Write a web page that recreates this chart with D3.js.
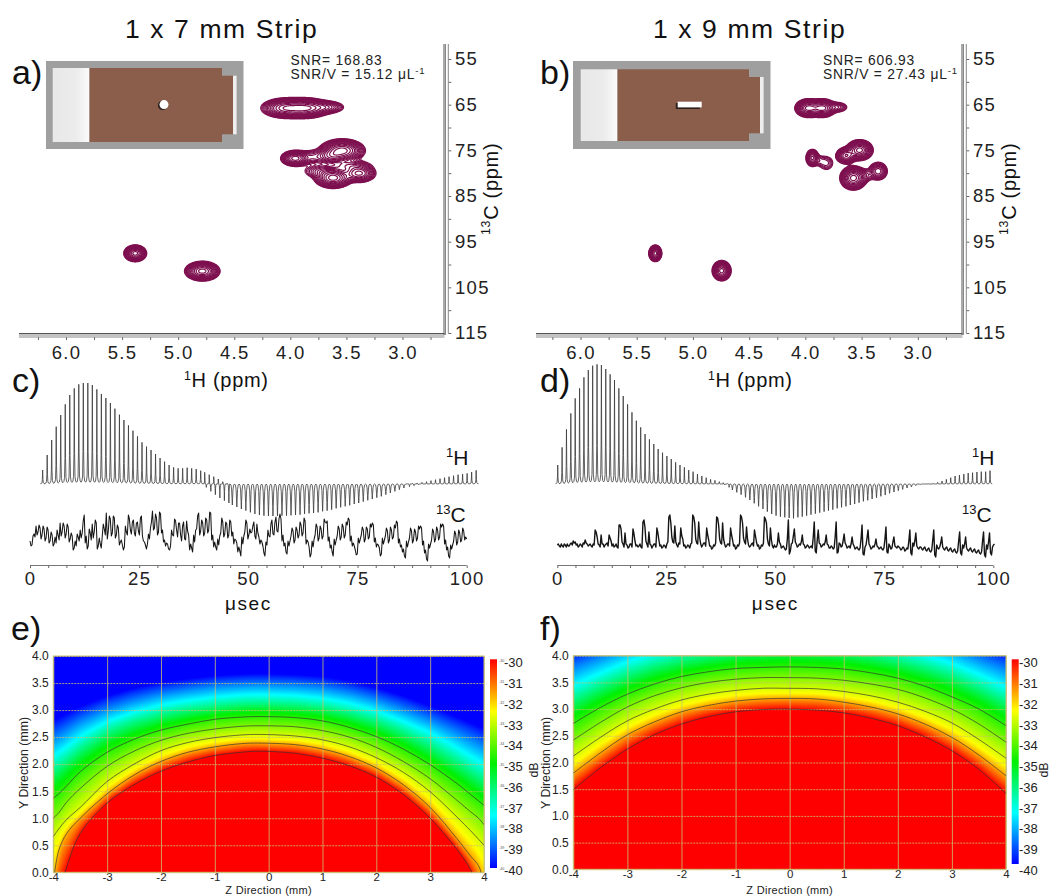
<!DOCTYPE html>
<html><head><meta charset="utf-8">
<script src="https://cdnjs.cloudflare.com/ajax/libs/d3/7.8.5/d3.min.js"></script>
<style>
html,body{margin:0;padding:0;background:#fff}
svg{display:block}
text{font-family:"Liberation Sans",Arial,sans-serif;fill:#111}
.tk text{font-size:18.5px;letter-spacing:1.3px;fill:#222}
.hk text{font-size:12px;fill:#222}
.hx text{font-size:11.5px;fill:#222}
.domain{display:none}
</style></head><body><svg id="c" width="1050" height="896"></svg>
<script>
/* ---------- NMR peak tables (1H ppm, 13C ppm, widths, heights) ---------- */
const peaksAH  = [4.04,3.86,3.68, 3.96,3.78,3.54,3.63,3.62,3.39,3.72,3.47, 5.385,4.787];
const peaksAC  = [65.7,65.7,65.5, 76.7,76.4,75.0,76.2,81.0,80.0,79.5,78.3, 97.5,101.4];
const peaksASH = [.095,.09,.08, .055,.09,.085,.06,.07,.068,.09,.1, .042,.065];
const peaksASC = [.95,.95,.7, .75,.9,1.07,.8,.95,.9,.85,.7, .76,.9];
const peaksAAmp= [.85,.85,.30, .80,.18,1,.4,1,.6,.2,.2, 1,1];
const peaksBH  = [3.975,3.85,3.72, 3.94,3.875,3.815, 3.52,3.64, 3.575,3.47,3.355, 5.337,4.747];
const peaksBC  = [65.7,65.7,65.5, 76.6,77.2,77.75, 74.9,76.1, 81.0,80.4,79.5, 97.5,101.3];
const peaksBSH = [.05,.05,.05, .026,.03,.04, .05,.04, .05,.045,.04, .024,.035];
const peaksBSC = [.85,.85,.6, .85,.7,1.0, .95,.8, 1.1,.8,.95, .75,.92];
const peaksBAmp= [1,1,.22, .6,.09,.13, 1,.7, 1,.12,.42, 1,1];
const ringLevels = [.05,.062,.077,.095,.118,.146,.18,.225,.28,.35,.43,.55,.7,.88];
const ppmH = [6.0,5.5,5.0,4.5,4.0,3.5,3.0];
const ppmC = [55,65,75,85,95,105,115];

/* ---------- 1H echo amplitudes ---------- */
const echoUpC = [42,87,132,172,207,239,267,287,299,303,303,297,284,270,258,243,226,208,192,176,160,143,125,112,102,90,78,67,57,50,47,47,49,47,45,40,35,28,22,15,7,2,0,0,0,0,0,0,0,0,0,0,0,0,0,0,0,0,0,0,0,0,0,0,0,0,0,0,0,0,0,0,0,0,0,0,0,0,0,0,0,1,2,3,5,7,10,13,16,19,22,25,28,30,32,36,41];
const echoDnC = [0,0,0,0,0,0,0,0,0,0,0,0,0,0,0,0,0,0,0,0,0,0,0,0,0,0,0,0,0,0,0,0,0,0,0,0,10,22,32,42,50,57,63,69,75,80,85,90,93,95,96,96,96,95,95,94,93,92,90,88,87,85,82,80,77,73,70,67,64,60,57,53,49,45,41,37,32,27,22,17,12,8,5,2,0,0,0,0,0,0,0,0,0,0,0,0,0];
const echoUpD = [57,110,164,212,257,287,320,342,355,359,357,345,329,312,287,264,239,215,190,170,150,134,120,105,94,84,75,65,57,50,42,37,30,24,19,14,11,7,4,1,0,0,0,0,0,0,0,0,0,0,0,0,0,0,0,0,0,0,0,0,0,0,0,0,0,0,0,0,0,0,0,0,0,0,0,0,0,0,0,0,0,0,0,0,0,1,2,5,9,14,19,24,27,30,33,34,36,37,37,40];
const echoDnD = [0,0,0,0,0,0,0,0,0,0,0,0,0,0,0,0,0,0,0,0,0,0,0,0,0,0,0,0,0,0,0,0,0,0,0,0,0,0,3,10,18,25,32,40,48,58,67,75,83,90,95,98,100,102,103,100,98,95,92,89,86,83,80,77,73,70,67,63,60,56,52,49,45,41,37,33,28,24,20,16,12,9,5,2,0,0,0,0,0,0,0,0,0,0,0,0,0,0,0,0];

/* ---------- 13C traces: main samples and the samples between them ---------- */
const carbonC = [-3,-7,4,12,6,10,3,9,0,8,-3,3,-6,-5,3,15,6,12,4,11,-1,2,-10,-8,1,8,5,23,2,-8,5,14,6,15,-8,-6,2,9,25,7,19,5,20,3,10,-4,-7,-9,6,23,8,16,5,15,7,20,2,-4,-11,4,10,27,10,20,6,24,8,-2,-5,-11,-8,3,19,8,15,3,12,-1,17,3,-6,-14,-4,9,25,7,15,5,18,8,25,3,-4,-12,-7,5,16,4,14,3,16,6,-1,-5,-9,-18,-6,6,15,3,5,12,2,14,1,-2,-8,-18,-7,2,14,4,16,7,19,19,3,-5,-16,-8,2,7,-2,8,3,13,5,17,-2,-9,-16,-9,3,11,0,9,2,16,17,1,-7,-18,-7,2,9,1,11,3,13,18,2,-5,-12,-16,-5,3,8,-1,9,1,11,13,0,-6,-10,-16,-6,2,7,-2,8,1,10,15,-1,-7,-11,-20,-9,0,7,-2,6,0,9,10,-3,-12,-23,-10,-2,6,-1,8,1,11,12,-2,-9,-20,-11,-3,4,-4,5,-2,7,1,10,-4];
const carbonCMid = [-8,2,1,3,13,-1,12,-3,11,-5,6,-8,1,8,-2,2,15,0,14,-4,5,-12,-3,4,-3,0,17,-5,-11,9,-2,0,18,-11,0,-10,14,3,-1,22,2,22,0,13,-7,-2,-12,12,3,19,4,18,2,16,3,22,-3,-7,-6,-1,16,8,24,3,26,5,-4,-8,-6,-12,8,2,17,1,15,-3,16,-2,7,-12,-10,3,8,22,3,18,2,20,5,26,-2,-9,-9,-1,2,20,1,16,0,18,2,-6,-2,-14,-13,1,2,18,-1,9,6,16,-1,5,-6,-4,-15,-4,8,1,18,3,21,6,24,-3,-8,-14,-3,-3,10,-5,11,0,16,2,20,-6,-4,-19,-3,-1,14,-3,12,-1,19,15,-3,-10,-14,-1,-2,12,-2,14,0,16,20,-3,-8,-8,-17,0,-1,11,-4,11,-1,14,15,-4,-9,-7,-18,0,-2,10,-5,11,-1,13,17,-5,-9,-14,-18,-3,-4,10,-5,9,-3,12,12,-7,-15,-21,-6,-6,9,-4,11,-2,14,14,-6,-12,-18,-7,-7,7,-7,8,-4,10,-2,-1];
const carbonD = [0,-1,1,-2,0,1,-1,2,4,3,1,-1,0,2,5,1,0,-1,1,15,8,0,10,1,0,2,10,4,1,-1,-2,20,16,1,12,0,-2,1,16,4,0,-1,-2,23,18,1,13,0,-1,1,17,5,0,-2,-1,1,28,22,3,19,0,2,17,6,0,-2,-1,1,30,22,2,23,1,0,2,17,5,-1,-3,-1,28,20,2,22,1,-1,1,17,5,0,-3,-1,30,22,3,18,0,-1,2,15,3,0,-3,-1,28,22,1,17,-1,0,-2,12,1,-2,-3,-4,25,-6,2,16,1,-1,0,10,0,-2,-1,-2,-3,23,-8,15,1,-1,0,10,0,-3,-2,-3,23,-7,1,-1,11,0,-2,-3,8,-1,-3,-4,-3,20,-10,0,15,-1,-3,-2,6,-2,-3,-4,-3,18,-8,-1,-3,8,-2,-1,-3,-4,-3,-5,-4,15,-10,-1,12,-3,-2,-4,-3,-5,-4,-6,-5,15,-12,-3,-2,8,-4,-3,-5,-4,-6,-5,-7,-6,13,-10,-3,8,-5,-4,-6,-5,-7,-6,-8,-7,13,-12,-4,12,-10,0];
const carbonDMid = [1,-2,-1,1,-2,-1,1,0,2,0,-2,1,-2,1,2,-1,1,-2,0,13,1,-2,1,-2,1,-1,7,-1,-2,1,-3,20,3,-2,1,-3,1,-2,11,-1,-2,1,-3,25,4,-2,1,-3,1,-2,12,-1,-3,0,-3,3,30,8,2,3,-2,1,9,-1,-3,0,-3,2,28,6,1,7,-2,2,-1,10,-1,-4,0,2,27,6,1,6,-2,1,-1,10,-1,-4,0,2,28,7,1,6,-2,1,-1,9,-1,-4,0,2,26,6,-1,5,-3,-2,1,3,-3,-1,-5,6,-9,1,9,3,-2,1,3,1,-3,0,-3,-1,8,-6,5,2,-2,1,3,1,-3,-1,-4,8,-8,2,-2,4,2,-3,-1,1,1,-4,-2,-5,6,-9,-2,7,1,-4,-1,1,-1,-4,-2,-5,6,-7,1,-4,3,-1,-3,-2,-5,-2,-6,-3,4,-8,2,4,-1,-4,-2,-5,-2,-6,-3,-7,5,-10,0,-4,2,-2,-5,-2,-6,-3,-7,-4,-8,4,-8,0,1,-3,-6,-3,-7,-4,-8,-5,-9,4,-10,0,3,-8,-2,1];
const usecTicks = [0,25,50,75,100];

/* ---------- Field maps: height (mm) of each dB level at each Z node ---------- */
const dbLevels = [-30,-31,-32,-33,-34,-35,-36,-37,-38,-39,-40];
const lineLevels = [-30,-31,-32,-33,-34];
const zNodesE = [-4,-3.9,-3.75,-3.5,-3,-2.5,-2,-1.5,-1,-.5,-.2,.5,1,1.5,2,2.5,3,3.5,3.75,3.9,4];
const levelYE = [
 [-.8,-.4,.1,.72,1.28,1.62,1.87,2.04,2.16,2.22,2.24,2.2,2.11,1.97,1.76,1.44,1.0,.42,.05,-.4,-.8],
 [-.2,.4,.72,1.0,1.45,1.8,2.05,2.22,2.32,2.38,2.39,2.36,2.28,2.14,1.93,1.62,1.2,.62,.3,.12,-.2],
 [.66,.8,.98,1.2,1.68,2.0,2.25,2.40,2.49,2.54,2.55,2.52,2.45,2.32,2.12,1.85,1.49,1.02,.77,.61,.5],
 [1.0,1.1,1.3,1.55,1.96,2.24,2.44,2.57,2.65,2.70,2.71,2.69,2.62,2.50,2.31,2.05,1.73,1.33,1.12,1.0,.88],
 [1.37,1.45,1.6,1.86,2.22,2.46,2.63,2.74,2.83,2.87,2.88,2.86,2.80,2.68,2.51,2.28,1.99,1.64,1.44,1.32,1.24],
 [1.68,1.76,1.9,2.12,2.45,2.65,2.8,2.9,2.97,3.02,3.03,3.0,2.95,2.84,2.68,2.47,2.2,1.88,1.7,1.6,1.52],
 [1.95,2.02,2.14,2.35,2.65,2.84,2.97,3.06,3.12,3.16,3.17,3.15,3.1,3.0,2.86,2.66,2.42,2.13,1.95,1.85,1.8],
 [2.2,2.27,2.37,2.56,2.83,3.0,3.13,3.21,3.27,3.31,3.32,3.3,3.25,3.16,3.02,2.83,2.62,2.35,2.2,2.12,2.05],
 [2.45,2.5,2.6,2.77,3.0,3.16,3.28,3.36,3.42,3.45,3.46,3.44,3.4,3.31,3.18,3.0,2.8,2.56,2.43,2.36,2.3],
 [2.68,2.73,2.82,2.96,3.17,3.32,3.43,3.5,3.56,3.59,3.6,3.58,3.54,3.46,3.33,3.17,2.98,2.76,2.65,2.58,2.53],
 [2.9,2.95,3.03,3.15,3.33,3.47,3.57,3.64,3.69,3.72,3.73,3.71,3.68,3.6,3.48,3.33,3.15,2.95,2.85,2.78,2.75]];
const zNodesF = [-4,-3.5,-3,-2.5,-2,-1.5,-1,-.5,-.1,.5,1,1.5,2,2.5,3,3.5,4];
const levelYF = [
 [1.49,1.9,2.25,2.52,2.72,2.86,2.95,2.99,3.0,2.98,2.93,2.83,2.69,2.48,2.22,1.87,1.42],
 [1.8,2.18,2.52,2.76,2.95,3.07,3.15,3.19,3.2,3.19,3.13,3.04,2.91,2.72,2.47,2.14,1.75],
 [2.12,2.47,2.78,3.0,3.17,3.28,3.35,3.39,3.39,3.38,3.33,3.25,3.13,2.96,2.74,2.43,2.08],
 [2.42,2.75,3.04,3.25,3.4,3.5,3.56,3.59,3.59,3.58,3.54,3.47,3.37,3.21,3.0,2.72,2.38],
 [2.73,3.03,3.28,3.47,3.61,3.7,3.76,3.78,3.79,3.78,3.75,3.68,3.58,3.43,3.23,3.0,2.69],
 [3.0,3.27,3.5,3.68,3.8,3.88,3.95,3.98,3.99,3.98,3.95,3.88,3.78,3.65,3.48,3.25,2.97],
 [3.25,3.5,3.72,3.88,4.0,4.08,4.14,4.17,4.18,4.17,4.14,4.08,3.98,3.85,3.7,3.47,3.22],
 [3.5,3.72,3.93,4.1,4.2,4.28,4.33,4.36,4.37,4.36,4.33,4.28,4.18,4.06,3.9,3.7,3.47],
 [3.75,3.95,4.15,4.3,4.4,4.47,4.52,4.55,4.56,4.55,4.52,4.47,4.38,4.27,4.12,3.92,3.72],
 [3.97,4.15,4.33,4.48,4.58,4.66,4.7,4.73,4.74,4.73,4.7,4.66,4.56,4.45,4.3,4.12,3.95],
 [4.2,4.35,4.52,4.66,4.76,4.84,4.88,4.91,4.92,4.91,4.88,4.84,4.74,4.63,4.48,4.32,4.18]];
const barDb = [-30,-32.5,-35,-37.5,-40];
const fieldDb = [-30,-31.55,-34.5,-36.8,-39.6];
const colourHex = ["#ff0000","#ffff00","#00f000","#00ffff","#0000ff"];
const zTicks = [-4,-3,-2,-1,0,1,2,3,4];
const yTicks = [0,.5,1,1.5,2,2.5,3,3.5,4];
const barTicks = [-30,-31,-32,-33,-34,-35,-36,-37,-38,-39,-40];

/* ---------- drawing ---------- */
const svg = d3.select("#c");
const colour = d3.scaleLinear().domain(fieldDb).range(colourHex);

function txt(x,y,s,size,opt){
  opt=opt||{};
  const t=svg.append("text").attr("x",x).attr("y",y).attr("font-size",size).text(s);
  if(opt.ls) t.style("letter-spacing",opt.ls+"px");
  if(opt.anchor) t.attr("text-anchor",opt.anchor);
  if(opt.fill) t.style("fill",opt.fill);
  if(opt.rot) t.attr("transform",`rotate(${opt.rot} ${x} ${y})`);
  return t;
}
function supTxt(x,y,sup,rest,size,opt){
  opt=opt||{};
  const t=svg.append("text").attr("x",x).attr("y",y).attr("font-size",size);
  if(opt.ls) t.style("letter-spacing",opt.ls+"px");
  if(opt.rot) t.attr("transform",`rotate(${opt.rot} ${x} ${y})`);
  if(opt.anchor) t.attr("text-anchor",opt.anchor);
  t.append("tspan").attr("font-size",size*.62).attr("dy",-size*.36).text(sup);
  t.append("tspan").attr("dy",size*.36).text(rest);
  return t;
}

function nmrPanel(c){
  const x=d3.scaleLinear([6,3],[c.x6,c.x3]);
  const y=d3.scaleLinear([55,115],[59,333]);
  const L=c.left,R=c.right;
  const g=svg.append("g");
  const nx=Math.round((R-L)*2), ny=Math.round(289*2);
  const gridH=d3.scaleLinear([0,nx],[x.invert(L),x.invert(R)]);
  const gridC=d3.scaleLinear([0,ny],[y.invert(44),y.invert(333)]);
  const vals=new Float64Array(nx*ny);
  for(let j=0;j<ny;j++){const cv=gridC(j);
    for(let i=0;i<nx;i++){const hv=gridH(i);let s=0;
      for(let k=0;k<c.H.length;k++){
        const a=(hv-c.H[k])/c.SH[k],b=(cv-c.C[k])/c.SC[k],e=a*a+b*b;
        if(e<30) s+=c.A[k]*Math.exp(-.5*e);
      }
      vals[i+j*nx]=s;
    }}
  const proj=d3.geoTransform({point(px,py){this.stream.point(x(gridH(px)),y(gridC(py)));}});
  const path=d3.geoPath(proj);
  g.selectAll("path.r").data(d3.contours().size([nx,ny]).thresholds(ringLevels)(vals)).join("path")
    .attr("class","r").attr("d",path).attr("fill","none").attr("stroke","#7d0f4f").attr("stroke-width",c.ring);
  const ln=(x1,y1,x2,y2,col,w)=>svg.append("line").attr("x1",x1).attr("y1",y1).attr("x2",x2).attr("y2",y2).attr("stroke",col).attr("stroke-width",w);
  ln(L,333.5,R,333.5,"#555",1); ln(L,335,R,335,"#888",1);
  ln(R-.5,44,R-.5,335,"#555",1); ln(R+1,44,R+1,335,"#888",1);
  const ax=d3.axisBottom(x).tickValues(d3.range(2.75,6.26,.25)).tickSize(3).tickFormat("");
  svg.append("g").attr("transform","translate(0,337)").call(ax).call(s=>s.selectAll("line").attr("stroke","#666"));
  ln(L,337,R,337,"#888",1);
  const ax2=d3.axisBottom(x).tickValues(ppmH).tickSize(0).tickPadding(0).tickFormat(d3.format(".1f"));
  svg.append("g").attr("class","tk").attr("transform","translate(0,346)").call(ax2);
  const ay=d3.axisRight(y).tickValues(d3.range(55,116,5)).tickSize(3).tickFormat("");
  svg.append("g").attr("transform",`translate(${R+3.8},0)`).call(ay).call(s=>s.selectAll("line").attr("stroke","#666"));
  ln(R+3.8,44,R+3.8,333,"#888",1);
  const ay2=d3.axisRight(y).tickValues(ppmC).tickSize(0).tickPadding(0);
  svg.append("g").attr("class","tk").attr("transform",`translate(${R+10.5},0)`).call(ay2);
  supTxt(c.hLabel,387,"1","H (ppm)",20,{ls:.7});
  supTxt(R+53,235,"13","C (ppm)",20,{rot:-90,ls:.7});
}
nmrPanel({x6:66,x3:402.5,left:19,right:444.5,H:peaksAH,C:peaksAC,SH:peaksASH,SC:peaksASC,A:peaksAAmp,ring:1.2,hLabel:184});
nmrPanel({x6:580.5,x3:917.8,left:536,right:962.5,H:peaksBH,C:peaksBC,SH:peaksBSH,SC:peaksBSC,A:peaksBAmp,ring:1.2,hLabel:708});

/* coil insets */
function inset(o){
  const g=svg.append("g");
  const grad=svg.append("defs").append("linearGradient").attr("id",o.id);
  grad.append("stop").attr("offset",0).attr("stop-color","#e8e8e8");
  grad.append("stop").attr("offset",.65).attr("stop-color","#ececec");
  grad.append("stop").attr("offset",1).attr("stop-color","#fbfbfb");
  g.append("rect").attr("x",o.x).attr("y",61).attr("width",197.5).attr("height",88).attr("fill","#9f9f9f");
  g.append("rect").attr("x",o.lx).attr("y",o.ty).attr("width",36.8).attr("height",o.bh).attr("fill",`url(#${o.id})`);
  g.append("rect").attr("x",o.lx+36.8).attr("y",o.ty).attr("width",o.bw).attr("height",o.bh).attr("fill","#8b5d4b");
  g.append("rect").attr("x",o.lx+36.8+o.bw).attr("y",o.ty+7.7).attr("width",11).attr("height",o.bh-15.4).attr("fill","#8b5d4b");
  g.append("rect").attr("x",o.lx+36.8+o.bw+11).attr("y",o.ty+7.7).attr("width",3.6).attr("height",o.bh-15.4).attr("fill","#eeeeee");
  o.hole(g);
}
inset({id:"ga",x:46,lx:52.7,ty:68,bh:74,bw:132.5,hole:g=>{
  g.append("circle").attr("cx",162.6).attr("cy",105.4).attr("r",4.7).attr("fill","#2b2020");
  g.append("circle").attr("cx",164).attr("cy",104.6).attr("r",4.5).attr("fill","#fff");
}});
inset({id:"gb",x:573,lx:580.7,ty:69.3,bh:71.7,bw:131.5,hole:g=>{
  g.append("rect").attr("x",675.8).attr("y",103).attr("width",24).attr("height",6).attr("fill","#2b2020");
  g.append("rect").attr("x",677.7).attr("y",101.7).attr("width",24).attr("height",5.7).attr("fill","#fff");
}});

/* titles */
txt(125,38,"1 x 7 mm Strip",26.5,{ls:1.6});
txt(653,38,"1 x 9 mm Strip",26.5,{ls:1.6});
[["a)",12,84],["b)",540,84],["c)",12,392],["d)",540,392],["e)",11,640],["f)",540,640]]
  .forEach(d=>txt(d[1],d[2],d[0],34));

function snr(x,a,b){
  txt(x,65,a,13.8,{ls:.8,fill:"#222"});
  const t=txt(x,79,b,13.8,{ls:.8,fill:"#222"});
  t.append("tspan").attr("font-size",9.5).attr("dy",-5.5).text("-1");
}
snr(290.5,"SNR= 168.83","SNR/V = 15.12 \u03BCL");
snr(823,"SNR= 606.93","SNR/V = 27.43 \u03BCL");

/* pulse traces */
const shapeDx=[-.5,-.3,-.16,-.07,0,.07,.16,.3,.5];
const shapeUp=[.018,.03,.08,.32,1,.32,.08,.03,.018];
function tracePanel(c){
  const x=d3.scaleLinear([0,100],[c.x0,c.x100]);
  const y=d3.scaleLinear([0,300],[c.base,c.base-100]);
  const pts=[];
  c.up.forEach((u,i)=>{
    const t=c.t0+i*c.dt, d=c.dn[i];
    if(u>0&&d>0){
      shapeDx.slice(0,5).forEach((dx,k)=>pts.push([t+dx*c.dt*.5-.12,u*shapeUp[k]]));
      pts.push([t,0]);
      [-.12,-.04,0,.04,.12].forEach((dx,k)=>pts.push([t+.25+dx,-d*[.1,.45,1,.45,.1][k]]));
      pts.push([t+.45,0]);
    } else if(d>0){
      [-.5,-.3,-.16,-.06,0,.06,.16,.3,.5].forEach((dx,k)=>pts.push([t+dx*c.dt,-d*[0,.05,.24,.7,1,.7,.24,.05,0][k]]));
    } else {
      shapeDx.forEach((dx,k)=>pts.push([t+dx*c.dt,u*shapeUp[k]]));
    }
  });
  svg.append("path").attr("d",d3.line().x(d=>x(d[0])).y(d=>y(d[1]))(pts))
    .attr("fill","none").attr("stroke","#3a3a3a").attr("stroke-width",.8);
  const merged=d3.merge(d3.zip(c.carbon,c.carbonMid));
  const yc=d3.scaleLinear([-30,30],[c.cBase+30,c.cBase-30]);
  const xc=d3.scaleLinear([0,merged.length-1],[c.cx0,c.cx1]);
  const cp=d3.line().x((d,i)=>xc(i)).y(d=>yc(d))(merged);
  svg.append("path").attr("d",cp).attr("fill","none").attr("stroke","#151515").attr("stroke-width",c.cw).attr("stroke-linejoin","round");
  const ay=565.5;
  svg.append("line").attr("x1",c.x0).attr("x2",c.x100).attr("y1",ay).attr("y2",ay).attr("stroke","#777");
  const minor=d3.range(0,25).map(i=>i*25/6);
  const a=d3.axisBottom(x).tickValues(minor).tickSize(2.5).tickFormat("");
  svg.append("g").attr("transform",`translate(0,${ay})`).call(a).call(s=>s.selectAll("line").attr("stroke","#666"));
  const a2=d3.axisBottom(x).tickValues(usecTicks).tickSize(0).tickPadding(0);
  svg.append("g").attr("class","tk").attr("transform","translate(0,572)").call(a2);
  txt((c.x0+c.x100)/2,610,"\u03BCsec",19,{anchor:"middle",ls:1.6});
  supTxt(c.h1,465,"1","H",21);
  supTxt(c.c13,522,"13","C",21);
}
tracePanel({x0:30,x100:466.7,base:484,t0:2.9,dt:1.034,up:echoUpC,dn:echoDnC,carbon:carbonC,carbonMid:carbonCMid,cBase:538,cx0:30,cx1:466.7,cw:1.05,h1:446,c13:436});
tracePanel({x0:557.3,x100:993.3,base:484,t0:.1,dt:1.0015,up:echoUpD,dn:echoDnD,carbon:carbonD,carbonMid:carbonDMid,cBase:545,cx0:557.3,cx1:994.5,cw:1.4,h1:972,c13:962});

/* field maps */
function heat(c){
  const x=d3.scaleLinear([-4,4],[c.x0,c.x1]);
  const y=d3.scaleLinear([0,4],[c.y0,c.y1]);
  const w=Math.round(c.x1-c.x0), h=Math.round(c.y0-c.y1);
  const cv=document.createElement("canvas");cv.width=w;cv.height=h;
  const ctx=cv.getContext("2d"),im=ctx.createImageData(w,h);
  const rows=c.levels.map(l=>d3.scaleLinear().domain(c.nodes).range(l));
  for(let i=0;i<w;i++){
    const z=x.invert(c.x0+(i+.5)*(c.x1-c.x0)/w);
    const ys=rows.map(r=>(r(z-.08)+r(z)+r(z+.08))/3);
    const f=d3.scaleLinear().domain(ys).range(dbLevels).clamp(true);
    for(let j=0;j<h;j++){
      const v=y.invert(c.y1+(j+.5)*(c.y0-c.y1)/h);
      const col=d3.rgb(colour(f(v)));
      const p=(i+j*w)*4;
      im.data[p]=col.r;im.data[p+1]=col.g;im.data[p+2]=col.b;im.data[p+3]=255;
    }
  }
  ctx.putImageData(im,0,0);
  svg.append("image").attr("href",cv.toDataURL()).attr("x",c.x0).attr("y",c.y1)
    .attr("width",c.x1-c.x0).attr("height",c.y0-c.y1).attr("preserveAspectRatio","none");
  const clip=svg.append("defs").append("clipPath").attr("id",c.id);
  clip.append("rect").attr("x",c.x0).attr("y",c.y1).attr("width",c.x1-c.x0).attr("height",c.y0-c.y1);
  const gridCol="#c8c070";
  const gx=d3.axisBottom(x).tickValues(zTicks).tickSize(-(c.y0-c.y1)).tickPadding(.5).tickFormat(d=>String(d));
  svg.append("g").attr("class","hx").attr("transform",`translate(0,${c.y0})`).call(gx)
    .call(s=>s.selectAll("line").attr("stroke",gridCol).attr("stroke-opacity",.8));
  const gy=d3.axisLeft(y).tickValues(yTicks).tickSize(-(c.x1-c.x0)).tickPadding(4.5).tickFormat(d3.format(".1f"));
  svg.append("g").attr("class","hk").attr("transform",`translate(${c.x0},0)`).call(gy)
    .call(s=>s.selectAll("line").attr("stroke",gridCol).attr("stroke-opacity",.8).attr("stroke-dasharray","2 1"));
  svg.append("rect").attr("x",c.x0).attr("y",c.y1).attr("width",c.x1-c.x0).attr("height",c.y0-c.y1)
    .attr("fill","none").attr("stroke",gridCol);
  const line=d3.line().x((d,i)=>x(c.nodes[i])).y(d=>y(d)).curve(d3.curveCatmullRom.alpha(.5));
  svg.append("g").attr("clip-path",`url(#${c.id})`).selectAll("path")
    .data(lineLevels.map(l=>c.levels[dbLevels.indexOf(l)])).join("path")
    .attr("d",line).attr("fill","none").attr("stroke","#333").attr("stroke-opacity",.8).attr("stroke-width",.85);
  const grad=svg.append("defs").append("linearGradient").attr("id",c.id+"g").attr("x1",0).attr("x2",0).attr("y1",0).attr("y2",1);
  barDb.forEach((d,i)=>grad.append("stop").attr("offset",(-30-d)/10).attr("stop-color",colourHex[i]));
  svg.append("rect").attr("x",c.bx).attr("y",c.by0).attr("width",7).attr("height",c.by1-c.by0).attr("fill",`url(#${c.id}g)`);
  const by=d3.scaleLinear([-30,-40],[662.7,870.3]);
  const a=d3.axisRight(by).tickValues(barTicks).tickSize(0).tickPadding(0).tickFormat(d=>String(d));
  svg.append("g").attr("transform",`translate(${c.bl},0)`).call(a).call(s=>s.selectAll("text").attr("font-size",13).style("fill","#222"));
  if(c.tiny){
    const a3=d3.axisRight(by).tickValues(barTicks).tickSize(0).tickPadding(0).tickFormat(d=>String(d));
    svg.append("g").attr("transform",`translate(${c.bx+9},-2)`).call(a3).call(s=>s.selectAll("text").attr("font-size",3.6).style("fill","#555"));
  }
  txt((c.x0+c.x1)/2,893.5,"Z Direction (mm)",11,{anchor:"middle",fill:"#222",ls:.3});
  txt(c.yt,763,"Y Direction (mm)",12.3,{anchor:"middle",rot:-90,fill:"#222"});
  txt(c.db,770,"dB",12.3,{anchor:"middle",rot:-90,fill:"#222"});
}
heat({id:"he",x0:53.3,x1:484,y0:872.3,y1:656,nodes:zNodesE,levels:levelYE,bx:490,by0:659.3,by1:868,bl:504,tiny:true,yt:28,db:538});
heat({id:"hf",x0:573.3,x1:1006,y0:869.3,y1:655.7,nodes:zNodesF,levels:levelYF,bx:1011.7,by0:659.3,by1:864,bl:1019,tiny:false,yt:550,db:1048});
</script></body></html>
